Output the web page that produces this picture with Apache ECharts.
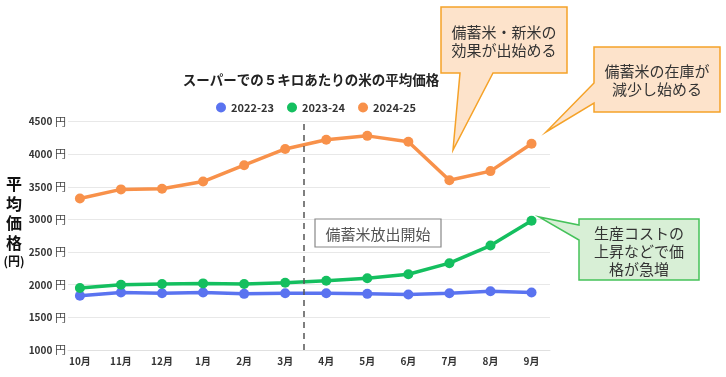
<!DOCTYPE html>
<html>
<head>
<meta charset="utf-8">
<script src="https://cdn.jsdelivr.net/npm/echarts@6/dist/echarts.min.js"></script>
<style>
  html, body { margin: 0; padding: 0; background: #fff; }
  #chart { width: 726px; height: 377px; }
</style>
</head>
<body>
<div id="chart"></div>
<script>
// 月（10月始まり）
const months = ['10月', '11月', '12月', '1月', '2月', '3月', '4月', '5月', '6月', '7月', '8月', '9月'];
const yTicks = [1000, 1500, 2000, 2500, 3000, 3500, 4000, 4500];

const price2223 = [1830, 1880, 1870, 1880, 1860, 1870, 1870, 1860, 1850, 1870, 1900, 1880];
const price2324 = [1950, 2000, 2010, 2020, 2010, 2030, 2060, 2100, 2160, 2330, 2600, 2980];
const price2425 = [3320, 3460, 3470, 3580, 3830, 4080, 4220, 4280, 4190, 3600, 3740, 4160];

// 備蓄米放出開始（3月と4月の間）
const releasePos = 5.46;

const font = '"Noto Sans CJK JP", "Noto Sans", sans-serif';
const colors = ['#5a73f0', '#14bf5f', '#f8914a'];

const toPairs = (arr) => arr.map((v, i) => [i, v]);

const makeSeries = (name, data, color) => ({
    name: name,
    type: 'line',
    data: toPairs(data),
    symbol: 'circle',
    symbolSize: 10,
    clip: false,
    lineStyle: { width: 3.5, color: color },
    itemStyle: { color: color }
});

const callout = (points, fill, stroke) => ({
    type: 'polygon',
    shape: { points: points },
    style: { fill: fill, stroke: stroke, lineWidth: 1.5 },
    z: 10
});

const label = (x, y, text, color) => ({
    type: 'text',
    x: x,
    y: y,
    style: {
        text: text,
        fill: color || '#333',
        font: '15px ' + font,
        textAlign: 'center',
        textVerticalAlign: 'middle',
        lineHeight: 18
    },
    z: 11
});

const chart = echarts.init(document.getElementById('chart'));

const series = [
    makeSeries('2022-23', price2223, colors[0]),
    makeSeries('2023-24', price2324, colors[1]),
    makeSeries('2024-25', price2425, colors[2])
];
series[0].markLine = {
    silent: true,
    symbol: 'none',
    label: { show: false },
    lineStyle: { color: '#555', type: [6, 5], width: 1.5 },
    data: [{ xAxis: releasePos }]
};

chart.setOption({
    animation: false,
    textStyle: { fontFamily: font },
    title: {
        text: 'スーパーでの５キロあたりの米の平均価格',
        left: 306,
        top: 68,
        textAlign: 'center',
        textStyle: { fontSize: 13.5, fontWeight: 'bold', color: '#222', fontFamily: font }
    },
    legend: {
        data: ['2022-23', '2023-24', '2024-25'],
        left: 211,
        top: 97,
        icon: 'circle',
        itemWidth: 10,
        itemHeight: 10,
        itemGap: 13,
        textStyle: { fontSize: 11, fontWeight: 'bold', color: '#333', fontFamily: font }
    },
    grid: { left: 68, right: 176, top: 121.5, bottom: 27 },
    xAxis: {
        type: 'value',
        min: -0.29,
        max: 11.45,
        axisLine: { show: true, lineStyle: { color: '#e0e0e0' } },
        axisTick: { show: false },
        splitLine: { show: false },
        axisLabel: {
            customValues: months.map((m, i) => i),
            formatter: (v) => months[v] || '',
            margin: 6,
            fontSize: 10,
            fontWeight: 'bold',
            color: '#333'
        }
    },
    yAxis: {
        type: 'value',
        min: yTicks[0],
        max: yTicks[yTicks.length - 1],
        interval: 500,
        axisLine: { show: false },
        axisTick: { show: false },
        splitLine: { lineStyle: { color: '#e8e8e8' } },
        axisLabel: {
            margin: 2,
            formatter: (v) => '{n|' + v + '} {u|円}',
            rich: {
                n: { fontSize: 10, fontWeight: 'bold', color: '#333', fontFamily: font },
                u: { fontSize: 11, color: '#444', fontFamily: font }
            }
        }
    },
    series: series,
    graphic: [
        {
            type: 'text',
            x: 14,
            y: 222,
            style: {
                text: '{k|平}\n{k|均}\n{k|価}\n{k|格}\n{s|(円)}',
                textAlign: 'center',
                textVerticalAlign: 'middle',
                rich: {
                    k: { fontSize: 16, fontWeight: 'bold', lineHeight: 19.5, fill: '#111', fontFamily: font },
                    s: { fontSize: 12, fontWeight: 'bold', lineHeight: 17, fill: '#111', fontFamily: font }
                }
            }
        },
        callout([[441, 7], [567, 7], [567, 73], [493, 73], [453, 150], [460, 73], [441, 73]], '#fde3cb', '#f5a228'),
        label(504, 41, '備蓄米・新米の\n効果が出始める'),
        callout([[594, 47], [720, 47], [720, 112], [594, 112], [594, 103], [546, 132], [594, 83]], '#fde3cb', '#f5a228'),
        label(657, 80, '備蓄米の在庫が\n減少し始める'),
        callout([[579, 219], [699, 219], [699, 280], [579, 280], [579, 240], [539, 217], [579, 225]], '#d8efd6', '#45c25a'),
        label(639, 251, '生産コストの\n上昇などで価\n格が急増'),
        {
            type: 'rect',
            shape: { x: 315, y: 219, width: 126, height: 28 },
            style: { fill: '#fff', stroke: '#888', lineWidth: 1.2 },
            z: 10
        },
        label(378, 234, '備蓄米放出開始', '#555')
    ]
});
</script>
</body>
</html>
